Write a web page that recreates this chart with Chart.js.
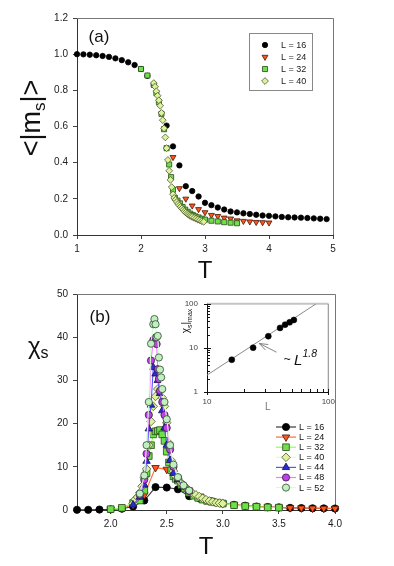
<!DOCTYPE html>
<html>
<head>
<meta charset="utf-8">
<script src="https://cdn.jsdelivr.net/npm/chart.js@4.4.1/dist/chart.umd.min.js"></script>
<style>
  body { margin: 0; background: #fff; }
  #wrap { position: relative; width: 394px; height: 566px; }
  canvas { position: absolute; }
</style>
</head>
<body>
<div id="wrap">
  <canvas id="chartA" width="394" height="283" style="left:0;top:0"></canvas>
  <canvas id="chartB" width="394" height="283" style="left:0;top:283px"></canvas>
  <canvas id="chartC" width="170" height="125" style="left:170px;top:290px"></canvas>
</div>
<script>
// ---------- panel (a): <|m_s|> against T ----------
const a16T = [1.0,1.1,1.2,1.3,1.4,1.5,1.6,1.7,1.8,1.9,2.0,2.1,2.2,2.4,2.5,2.6,2.7,2.8,2.9,3.0,3.1,3.2,3.3,3.4,3.5,3.6,3.7,3.8,3.9,4.0,4.1,4.2,4.3,4.4,4.5,4.6,4.7,4.8,4.9];
const a16M = [1.0,0.999,0.997,0.994,0.99,0.985,0.977,0.967,0.955,0.94,0.918,0.88,0.83,0.605,0.49,0.385,0.27,0.243,0.213,0.178,0.165,0.152,0.141,0.13,0.125,0.12,0.116,0.112,0.108,0.106,0.103,0.1,0.098,0.097,0.096,0.094,0.092,0.09,0.088];
const a24T = [2.5,2.6,2.7,2.8,2.9,3.0,3.1,3.2,3.3,3.4,3.5,3.6,3.7,3.8,3.9,4.0];
const a24M = [0.43,0.258,0.2,0.162,0.142,0.125,0.11,0.104,0.095,0.09,0.08,0.077,0.074,0.071,0.07,0.068];
const a32T = [2.0,2.1,2.2,2.24,2.28,2.32,2.36,2.4,2.44,2.47,2.5,2.53,2.57,2.61,2.65,2.69,2.73,2.77,2.81,2.85,2.9,2.95,3.0,3.1,3.2,3.3,3.4,3.5];
const a32M = [0.918,0.882,0.83,0.785,0.735,0.67,0.585,0.48,0.39,0.32,0.25,0.205,0.19,0.175,0.155,0.14,0.128,0.118,0.11,0.103,0.097,0.09,0.085,0.079,0.075,0.071,0.068,0.065];
const a40T = [2.2,2.22,2.24,2.26,2.28,2.3,2.32,2.34,2.36,2.38,2.4,2.42,2.44,2.46,2.48,2.5,2.52,2.54,2.56,2.58,2.6,2.62,2.64,2.66,2.68,2.7,2.72,2.74,2.76,2.78,2.8,2.83,2.86,2.89,2.92,2.95,2.98];
const a40M = [0.84,0.82,0.795,0.77,0.745,0.715,0.675,0.635,0.59,0.54,0.48,0.415,0.355,0.305,0.265,0.225,0.205,0.195,0.183,0.172,0.163,0.155,0.147,0.139,0.131,0.124,0.118,0.113,0.108,0.104,0.1,0.095,0.09,0.085,0.081,0.076,0.073];

// ---------- panel (b): chi_s against T ----------
const b16T = [1.7,1.8,1.9,2.0,2.1,2.2,2.3,2.4,2.5,2.6,2.7,2.8,2.9,3.0,3.1,3.2,3.3,3.4,3.5,3.6,3.7,3.8,3.9,4.0];
const b16X = [0.05,0.05,0.1,0.15,0.3,0.8,2.2,5.3,5.2,4.8,3.2,2.6,2.0,1.5,1.2,1.0,0.8,0.7,0.6,0.5,0.45,0.4,0.38,0.35];
const b24T = [2.0,2.1,2.2,2.3,2.4,2.5,2.6,2.7,2.8,2.9,3.0,3.1,3.2,3.3,3.4,3.5,3.6,3.7,3.8,3.9,4.0];
const b24X = [0.2,0.4,1.2,3.5,9.8,9.4,7.2,4.6,3.2,2.2,1.6,1.25,1.0,0.8,0.7,0.6,0.5,0.45,0.4,0.38,0.35];
const b32T = [2.0,2.1,2.2,2.26,2.3,2.32,2.34,2.36,2.38,2.4,2.42,2.44,2.46,2.48,2.5,2.52,2.54,2.56,2.58,2.6,2.63,2.66,2.7,2.74,2.78,2.82,2.86,2.9,2.95,3.0,3.1,3.2,3.3,3.4,3.5];
const b32X = [0.2,0.5,1.6,2.2,4.5,8.5,12.5,15,17.5,18.2,18.3,18.5,17.5,16,13.5,11,9.2,7.8,7.2,6.8,5.8,5.0,4.0,3.3,2.8,2.4,2.1,1.9,1.7,1.5,1.1,0.9,0.75,0.6,0.55];
const b40T = [2.2,2.22,2.24,2.26,2.28,2.3,2.32,2.34,2.36,2.38,2.4,2.42,2.44,2.46,2.48,2.5,2.52,2.54,2.56,2.58,2.6,2.62,2.64,2.66,2.68,2.7,2.73,2.76,2.79,2.82,2.85,2.88,2.91,2.94,2.97,3.0];
const b40X = [1.5,2.5,3,4,5.5,7.5,9.5,15,20.5,24,26.3,28,27.5,26,24,20.2,15.5,11.5,9,7.8,7.2,6.5,5.9,5.4,4.9,4.4,3.9,3.5,3.1,2.7,2.4,2.1,1.9,1.7,1.6,1.5];
const b44T = [2.2,2.26,2.3,2.32,2.34,2.36,2.38,2.4,2.42,2.44,2.46,2.48,2.5,2.53,2.56,2.6,2.65,2.7];
const b44X = [1.2,3,5.8,11.3,18.8,24.3,33,31.5,30,27,23,19,15,11.5,8.5,7,5.5,4.4];
const b48T = [2.26,2.3,2.32,2.34,2.36,2.38,2.4,2.41,2.42,2.43,2.44,2.46,2.48,2.5,2.53,2.56,2.6,2.65,2.7];
const b48X = [3.5,7,13,22,34.6,39.3,39.9,38.4,32.6,30.3,27.6,25,22,19,14,10,7.5,5.6,4.4];
const b52T = [2.26,2.3,2.32,2.34,2.36,2.38,2.39,2.4,2.41,2.42,2.43,2.44,2.45,2.46,2.48,2.5,2.53,2.56,2.6,2.65,2.7];
const b52X = [3.8,8,15,25,38.5,43,44.2,43,40,40.3,35.3,32.5,30.7,28,25,21,15,10.5,7.6,5.7,4.5];

// ---------- inset: chi_s|max against L ----------
const insetL = [16, 24, 32, 40, 44, 48, 52];
const insetChiMax = [5.4, 10.1, 18.4, 28.4, 33.7, 38, 43];
const fitL = [10, 79.3];
const fitChi = [2.41, 100];

// ticks
const aXTicks = [1, 2, 3, 4, 5];
const aYTicks = [0, 0.2, 0.4, 0.6, 0.8, 1.0, 1.2];
const bXTicks = [2.0, 2.5, 3.0, 3.5, 4.0];
const bYTicks = [0, 10, 20, 30, 40, 50];
const insetXTicks = [10, 100];
const insetYTicks = [1, 10, 100];
const insetXMinor = [20, 30, 40, 50, 60, 70, 80, 90];
const insetYMinor = [2, 3, 4, 5, 6, 7, 8, 9, 20, 30, 40, 50, 60, 70, 80, 90];

const sizesA = [16, 24, 32, 40];
const sizesB = [16, 24, 32, 40, 44, 48, 52];

// annotation in inset data coordinates
const arrowTip = [27, 12.6];
const arrowTail = [37.4, 8.0];
const powerLawAt = [42.9, 4.5];

const FONT = "'Liberation Sans', Arial, sans-serif";
Chart.defaults.font.family = FONT;

const sty = {
  16: { shape: 'circle',   rot: 0,   fill: '#000000', edge: '#000000', line: '#3a3a3a' },
  24: { shape: 'triangle', rot: 180, fill: '#ff5520', edge: '#4a1500', line: '#ff6a3a' },
  32: { shape: 'rect',     rot: 0,   fill: '#6ee04a', edge: '#2a4a18', line: '#8cff5a' },
  40: { shape: 'rectRot',  rot: 0,   fill: '#dcf29c', edge: '#4f5a30', line: '#ecffa6' },
  44: { shape: 'triangle', rot: 0,   fill: '#2b2bd8', edge: '#10104a', line: '#5555ff' },
  48: { shape: 'circle',   rot: 0,   fill: '#c040e8', edge: '#3a0f48', line: '#f27aff' },
  52: { shape: 'circle',   rot: 0,   fill: '#c0f0c0', edge: '#2f4a2f', line: '#d4ffd4' }
};
const radA = { circle: 2.7, triangle: 3.4, rect: 3.6, rectRot: 3.4 };
const radB = { circle: 3.6, triangle: 4.3, rect: 4.7, rectRot: 4.3 };

function pts(xs, ys) { return xs.map((x, i) => ({ x: x, y: ys[i] })); }

function drawMarker(ctx, s, r, x, y) {
  ctx.save();
  ctx.fillStyle = s.fill;
  ctx.strokeStyle = s.edge;
  ctx.lineWidth = 0.8;
  Chart.helpers.drawPoint(ctx, { pointStyle: s.shape, rotation: s.rot, radius: r, borderWidth: 0.8 }, x, y);
  ctx.restore();
}

function rich(ctx, x, y, angle, parts, align) {
  ctx.save();
  ctx.translate(x, y);
  ctx.rotate(angle);
  ctx.textAlign = 'left';
  ctx.textBaseline = 'alphabetic';
  ctx.fillStyle = '#111';
  let w = 0;
  parts.forEach(p => {
    ctx.font = (p.it ? 'italic ' : '') + p.s + 'px ' + FONT;
    p.w = ctx.measureText(p.t).width;
    w += p.w;
  });
  let cx = align === 'left' ? 0 : -w / 2;
  parts.forEach(p => {
    ctx.font = (p.it ? 'italic ' : '') + p.s + 'px ' + FONT;
    ctx.fillText(p.t, cx, p.dy || 0);
    cx += p.w;
  });
  ctx.restore();
}

function frame(chart) {
  const a = chart.chartArea, ctx = chart.ctx;
  ctx.save();
  ctx.strokeStyle = '#777';
  ctx.lineWidth = 1;
  ctx.beginPath();
  ctx.moveTo(a.left, a.top + 0.5);
  ctx.lineTo(a.right + 0.5, a.top + 0.5);
  ctx.lineTo(a.right + 0.5, a.bottom);
  ctx.stroke();
  ctx.restore();
}

function mainScales(xmin, xmax, xt, xfmt, ymin, ymax, yt, yfmt, xh, titlePad) {
  const grid = { drawOnChartArea: false, tickLength: 4, color: '#444' };
  return {
    x: {
      type: 'linear', min: xmin, max: xmax,
      afterBuildTicks: s => { s.ticks = xt.map(v => ({ value: v })); },
      afterFit: s => { s.height = xh; },
      ticks: { color: '#222', font: { size: 10 }, padding: 4, maxRotation: 0, callback: xfmt },
      grid: grid,
      border: { color: '#333', width: 1 },
      title: { display: true, text: 'T', color: '#111', font: { size: 24, lineHeight: 1 }, padding: { top: 0, bottom: titlePad } }
    },
    y: {
      type: 'linear', min: ymin, max: ymax,
      afterBuildTicks: s => { s.ticks = yt.map(v => ({ value: v })); },
      afterFit: s => { s.width = 77; },
      ticks: { color: '#222', font: { size: 10 }, padding: 5, callback: yfmt },
      grid: grid,
      border: { color: '#333', width: 1 }
    }
  };
}

// ---------- chart (a) ----------
const aSeries = { 16: [a16T, a16M], 24: [a24T, a24M], 32: [a32T, a32M], 40: [a40T, a40M] };
const extrasA = {
  id: 'extrasA',
  beforeDatasetsDraw: frame,
  afterDraw(chart) {
    const ctx = chart.ctx;
    rich(ctx, 99, 42, 0, [{ t: '(a)', s: 17 }]);
    rich(ctx, 40, 118, -Math.PI / 2, [{ t: '<|m', s: 27 }, { t: 's', s: 17, dy: 5 }, { t: '|>', s: 27 }]);
    ctx.save();
    ctx.strokeStyle = '#888';
    ctx.lineWidth = 1;
    ctx.strokeRect(249.5, 33.5, 63, 57);
    ctx.restore();
    sizesA.forEach((L, i) => {
      const y = 45 + i * 12;
      drawMarker(ctx, sty[L], radA[sty[L].shape], 265, y);
      ctx.save();
      ctx.fillStyle = '#222';
      ctx.font = '9px ' + FONT;
      ctx.textBaseline = 'middle';
      ctx.fillText('L = ' + L, 281, y + 0.5);
      ctx.restore();
    });
  }
};

new Chart(document.getElementById('chartA'), {
  type: 'scatter',
  data: {
    datasets: sizesA.map((L, i) => ({
      label: 'L = ' + L,
      data: pts(aSeries[L][0], aSeries[L][1]),
      order: sizesA.length - i,
      clip: false,
      pointStyle: sty[L].shape,
      pointRotation: sty[L].rot,
      pointRadius: radA[sty[L].shape],
      pointBackgroundColor: sty[L].fill,
      pointBorderColor: sty[L].edge,
      pointBorderWidth: 0.8
    }))
  },
  options: {
    responsive: false, animation: false, events: [], devicePixelRatio: 1,
    layout: { padding: { left: 0, top: 18, right: 61, bottom: 0 } },
    plugins: { legend: { display: false }, tooltip: { enabled: false } },
    scales: mainScales(1, 5, aXTicks, v => String(v), 0, 1.2, aYTicks, v => v.toFixed(1), 48, 0)
  },
  plugins: [extrasA]
});

// ---------- chart (b) ----------
const bSeries = { 16: [b16T, b16X], 24: [b24T, b24X], 32: [b32T, b32X], 40: [b40T, b40X], 44: [b44T, b44X], 48: [b48T, b48X], 52: [b52T, b52X] };
const extrasB = {
  id: 'extrasB',
  beforeDatasetsDraw: frame,
  afterDraw(chart) {
    const ctx = chart.ctx;
    rich(ctx, 100, 39, 0, [{ t: '(b)', s: 17 }]);
    rich(ctx, 28, 70.5, 0, [{ t: 'χ', s: 24 }, { t: 's', s: 16, dy: 4.5 }], 'left');
    sizesB.forEach((L, i) => {
      const y = 144 + i * 10.1;
      ctx.save();
      ctx.strokeStyle = sty[L].line;
      ctx.lineWidth = 1.2;
      ctx.beginPath();
      ctx.moveTo(276, y);
      ctx.lineTo(296, y);
      ctx.stroke();
      ctx.restore();
      drawMarker(ctx, sty[L], radB[sty[L].shape], 286, y);
      ctx.save();
      ctx.fillStyle = '#111';
      ctx.font = '9px ' + FONT;
      ctx.textBaseline = 'middle';
      ctx.fillText('L = ' + L, 299, y + 0.5);
      ctx.restore();
    });
  }
};

new Chart(document.getElementById('chartB'), {
  type: 'scatter',
  data: {
    datasets: sizesB.map((L, i) => ({
      label: 'L = ' + L,
      data: pts(bSeries[L][0], bSeries[L][1]),
      order: sizesB.length - i,
      clip: false,
      showLine: true,
      borderColor: sty[L].line,
      borderWidth: 1.1,
      tension: 0,
      pointStyle: sty[L].shape,
      pointRotation: sty[L].rot,
      pointRadius: radB[sty[L].shape],
      pointBackgroundColor: sty[L].fill,
      pointBorderColor: sty[L].edge,
      pointBorderWidth: 0.8
    }))
  },
  options: {
    responsive: false, animation: false, events: [], devicePixelRatio: 1,
    layout: { padding: { left: 0, top: 10, right: 59, bottom: 0 } },
    plugins: { legend: { display: false }, tooltip: { enabled: false } },
    scales: mainScales(1.7, 4.0, bXTicks, v => v.toFixed(1), 0, 50, bYTicks, v => String(v), 56, 7)
  },
  plugins: [extrasB]
});

// ---------- inset ----------
const extrasC = {
  id: 'extrasC',
  beforeDatasetsDraw(chart) {
    const a = chart.chartArea, ctx = chart.ctx;
    const xs = chart.scales.x, ys = chart.scales.y;
    ctx.save();
    ctx.strokeStyle = '#c4c4c4';
    ctx.lineWidth = 2;
    ctx.beginPath();
    ctx.moveTo(a.left, a.top);
    ctx.lineTo(a.right, a.top);
    ctx.stroke();
    ctx.strokeStyle = '#999';
    ctx.lineWidth = 1.2;
    ctx.beginPath();
    ctx.moveTo(a.right, a.top);
    ctx.lineTo(a.right, a.bottom);
    ctx.stroke();
    ctx.strokeStyle = '#111';
    ctx.lineWidth = 1;
    ctx.beginPath();
    ctx.moveTo(a.left + 0.5, a.top);
    ctx.lineTo(a.left + 0.5, a.bottom + 0.5);
    ctx.lineTo(a.right, a.bottom + 0.5);
    insetYTicks.forEach(v => { const y = Math.round(ys.getPixelForValue(v)) + 0.5; ctx.moveTo(a.left - 3, y); ctx.lineTo(a.left + 4, y); });
    insetYMinor.forEach(v => { const y = Math.round(ys.getPixelForValue(v)) + 0.5; ctx.moveTo(a.left, y); ctx.lineTo(a.left + 3, y); });
    insetXTicks.forEach(v => { const x = Math.round(xs.getPixelForValue(v)) + 0.5; ctx.moveTo(x, a.bottom - 3); ctx.lineTo(x, a.bottom + 3); });
    insetXMinor.forEach(v => { const x = Math.round(xs.getPixelForValue(v)) + 0.5; ctx.moveTo(x, a.bottom); ctx.lineTo(x, a.bottom - 3); });
    ctx.stroke();
    ctx.restore();
  },
  afterDraw(chart) {
    const ctx = chart.ctx;
    const xs = chart.scales.x, ys = chart.scales.y;
    rich(ctx, 19, 31, -Math.PI / 2, [{ t: 'χ', s: 10 }, { t: 's', s: 7, dy: 2.5 }, { t: '|', s: 10 }, { t: 'max', s: 7, dy: 2.5 }]);
    // arrow pointing at the fit line
    const tx = xs.getPixelForValue(arrowTip[0]), ty = ys.getPixelForValue(arrowTip[1]);
    const sx = xs.getPixelForValue(arrowTail[0]), sy = ys.getPixelForValue(arrowTail[1]);
    const ang = Math.atan2(ty - sy, tx - sx);
    ctx.save();
    ctx.strokeStyle = '#777';
    ctx.lineWidth = 0.9;
    ctx.beginPath();
    ctx.moveTo(sx, sy);
    ctx.lineTo(tx, ty);
    [0.35, -0.35].forEach(d => {
      ctx.moveTo(tx, ty);
      ctx.lineTo(tx - 9 * Math.cos(ang + d), ty - 9 * Math.sin(ang + d));
    });
    ctx.stroke();
    ctx.restore();
    rich(ctx, xs.getPixelForValue(powerLawAt[0]), ys.getPixelForValue(powerLawAt[1]), 0,
      [{ t: '~ ', s: 12 }, { t: 'L', s: 15, it: true, dy: 2 }, { t: '1.8', s: 10.5, it: true, dy: -6 }], 'left');
  }
};

new Chart(document.getElementById('chartC'), {
  type: 'scatter',
  data: {
    datasets: [
      {
        data: pts(fitL, fitChi),
        showLine: true, borderColor: '#8a8a8a', borderWidth: 1, pointRadius: 0, order: 2
      },
      {
        data: pts(insetL, insetChiMax),
        pointStyle: 'circle', pointRadius: 3, pointBackgroundColor: '#000', pointBorderColor: '#000',
        pointBorderWidth: 0.5, clip: false, order: 1
      }
    ]
  },
  options: {
    responsive: false, animation: false, events: [], devicePixelRatio: 1,
    layout: { padding: { left: 0, top: 13, right: 11, bottom: 0 } },
    plugins: { legend: { display: false }, tooltip: { enabled: false } },
    scales: {
      x: {
        type: 'logarithmic', min: 10, max: 100,
        afterBuildTicks: s => { s.ticks = insetXTicks.map(v => ({ value: v })); },
        afterFit: s => { s.height = 23; },
        ticks: { color: '#444', font: { size: 8 }, padding: 5, maxRotation: 0, callback: v => String(v) },
        grid: { display: false, drawTicks: false },
        border: { display: false },
        title: { display: true, text: 'L', color: '#777', font: { size: 10, lineHeight: 1 }, padding: { top: 0, bottom: 3 } }
      },
      y: {
        type: 'logarithmic', min: 1, max: 100,
        afterBuildTicks: s => { s.ticks = insetYTicks.map(v => ({ value: v })); },
        afterFit: s => { s.width = 37; },
        ticks: { color: '#444', font: { size: 8 }, padding: 9, callback: v => String(v) },
        grid: { display: false, drawTicks: false },
        border: { display: false }
      }
    }
  },
  plugins: [extrasC]
});
</script>
</body>
</html>
